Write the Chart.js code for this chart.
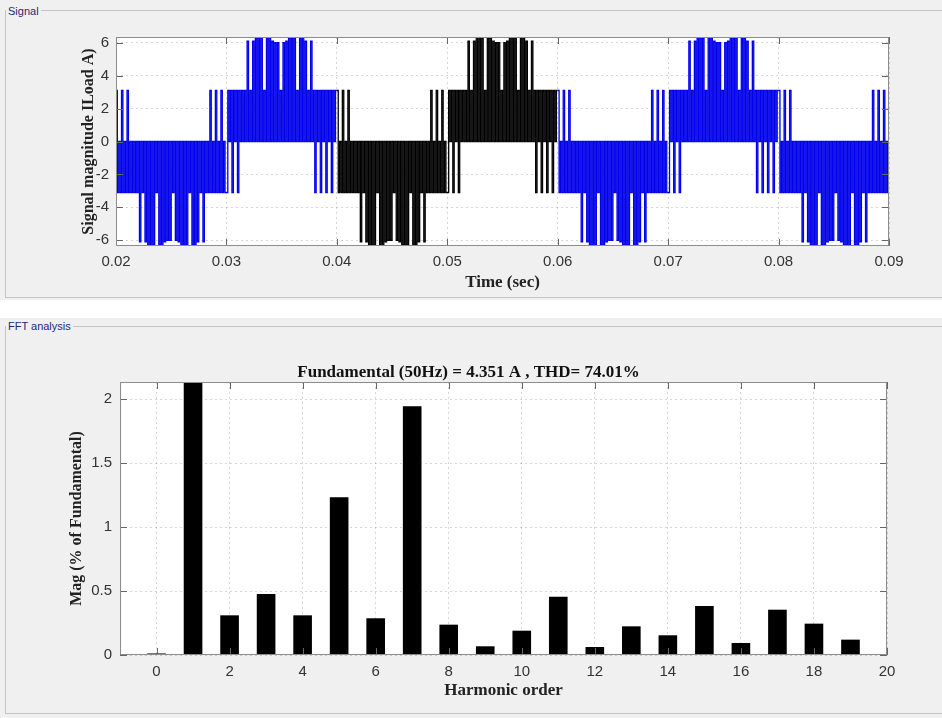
<!DOCTYPE html>
<html>
<head>
<meta charset="utf-8">
<script src="https://cdn.jsdelivr.net/npm/chart.js@4/dist/chart.umd.min.js"></script>
<style>
  html, body { margin: 0; padding: 0; background: #fff; width: 942px; height: 718px; overflow: hidden; position: relative; }
  .panel { position: absolute; left: 0; width: 942px; background: #f0f0f0; }
  .frame { position: absolute; border: 1px solid #c4c4c4; border-right: none; box-sizing: border-box; }
  .caption { position: absolute; font: 11px "Liberation Sans", Arial, sans-serif; line-height: 13px; color: #1e2a78; background: #f0f0f0; padding: 0 2px; }
  .holder { position: absolute; left: 0; width: 942px; }
</style>
</head>
<body>
<div class="panel" style="top:0;height:300px"></div>
<div class="frame" style="left:5px;top:10px;width:937px;height:288px"></div>
<div class="caption" style="left:6px;top:5px">Signal</div>

<div class="panel" style="top:318px;height:400px"></div>
<div class="frame" style="left:5px;top:326px;width:937px;height:388px"></div>
<div class="caption" style="left:6px;top:320px">FFT analysis</div>

<div class="holder" style="top:0;height:300px"><canvas id="sig"></canvas></div>
<div class="holder" style="top:318px;height:400px"><canvas id="fft"></canvas></div>

<script>
// ---- load current trace ----
const signalTicksX = [0.02, 0.03, 0.04, 0.05, 0.06, 0.07, 0.08, 0.09];
const signalTicksY = [-6, -4, -2, 0, 2, 4, 6];
const cycleStartsSec = [0.02, 0.04, 0.06, 0.08];
const analysedWindowSec = [0.04, 0.06];
const sampleStepMs = 0.125;

// switching zones inside one 20 ms cycle: start time (ms) and the level visited at each sample
const zoneStartMs = [0, 1.75, 8.25, 11.5, 18];
const zonePatterns = [
  "pn0npn0npn0n0n",
  "0n0v0n0v0u0u0u0n0u0u0v0w0w0n0w0v0u0u0u0n0u0u0v0n0v0n",
  "0npn0npn0npn0nnp0pnp0pnp0p",
  "0p0V0p0V0U0U0U0p0U0U0V0W0W0p0W0V0U0U0U0p0U0U0V0p0V0p",
  "np0pnp0pnp0pnp0p"
];
// current level (A) for each sample code
const levelCodes = ['0', 'p', 'n', 'U', 'V', 'W', 'u', 'v', 'w'];
const levelAmps  = [0, 3.1, -3.1, 6.3, 6.1, 6.0, -6.3, -6.1, -6.0];

// ---- harmonic spectrum ----
const harmonicOrder = [0, 1, 2, 3, 4, 5, 6, 7, 8, 9, 10, 11, 12, 13, 14, 15, 16, 17, 18, 19];
const magPercent = [0.012, 100, 0.31, 0.476, 0.31, 1.232, 0.287, 1.943, 0.237, 0.068,
                    0.19, 0.455, 0.0625, 0.224, 0.154, 0.383, 0.094, 0.354, 0.245, 0.12];
const fftTicksX = [0, 2, 4, 6, 8, 10, 12, 14, 16, 18, 20];
const fftTicksY = [0, 0.5, 1, 1.5, 2];
const fundamentalHz = 50;
const fundamentalAmp = '4.351';
const thdPercent = '74.01';

// decode the switching samples into (time, current) points
const signalPoints = [];
cycleStartsSec.forEach(start => {
  zonePatterns.forEach((pattern, z) => {
    for (let j = 0; j < pattern.length; j++) {
      const t = start + (zoneStartMs[z] + j * sampleStepMs) / 1000;
      if (t > signalTicksX[signalTicksX.length - 1] + 1e-9) return;
      signalPoints.push({ x: t, y: levelAmps[levelCodes.indexOf(pattern[j])] });
    }
  });
});

Chart.defaults.font.family = '"Liberation Sans", Arial, Helvetica, sans-serif';
Chart.defaults.color = '#333';

const serifBold = size => ({ family: '"Liberation Serif", "Times New Roman", serif', weight: 'bold', size, lineHeight: 1 });
const gridColor = 'rgba(0,0,0,0.16)';
const traceBlue = 'rgb(0,0,235)';
const traceBlack = '#000';
const plainNumber = v => String(v);

// white plot box, grey frame and inward tick marks on all four sides
const plotFrame = {
  id: 'plotFrame',
  beforeDraw(chart) {
    const { ctx, chartArea: a } = chart;
    ctx.save();
    ctx.fillStyle = '#fff';
    ctx.fillRect(a.left, a.top, a.right - a.left, a.bottom - a.top);
    ctx.restore();
  },
  afterDraw(chart) {
    const { ctx, chartArea: a, scales } = chart;
    const len = 7;
    ctx.save();
    ctx.lineWidth = 1;
    ctx.strokeStyle = '#666';
    ctx.beginPath();
    scales.x.ticks.forEach(t => {
      const px = Math.round(scales.x.getPixelForValue(t.value)) + 0.5;
      ctx.moveTo(px, a.bottom); ctx.lineTo(px, a.bottom - len);
      ctx.moveTo(px, a.top); ctx.lineTo(px, a.top + len);
    });
    scales.y.ticks.forEach(t => {
      const py = Math.round(scales.y.getPixelForValue(t.value)) + 0.5;
      ctx.moveTo(a.left, py); ctx.lineTo(a.left + len, py);
      ctx.moveTo(a.right, py); ctx.lineTo(a.right - len, py);
    });
    ctx.stroke();
    ctx.strokeStyle = '#8c8c8c';
    ctx.strokeRect(Math.round(a.left) + 0.5, Math.round(a.top) + 0.5,
                   Math.round(a.right - a.left) - 1, Math.round(a.bottom - a.top) - 1);
    ctx.restore();
  }
};

const inWindow = x => x >= analysedWindowSec[0] - 1e-9 && x < analysedWindowSec[1] - 1e-9;

new Chart(document.getElementById('sig'), {
  type: 'line',
  data: {
    datasets: [{
      data: signalPoints,
      borderColor: traceBlue,
      borderWidth: 1.3,
      pointRadius: 0,
      stepped: 'before',
      segment: { borderColor: c => inWindow(c.p0.parsed.x) ? traceBlack : traceBlue }
    }]
  },
  options: {
    responsive: true,
    maintainAspectRatio: false,
    animation: false,
    events: [],
    layout: { padding: { left: 50, right: 53, top: 37, bottom: 0 } },
    plugins: { legend: { display: false }, tooltip: { enabled: false } },
    scales: {
      x: {
        type: 'linear',
        min: signalTicksX[0],
        max: signalTicksX[signalTicksX.length - 1],
        afterFit: s => { s.height = 54; },
        afterBuildTicks: s => { s.ticks = signalTicksX.map(v => ({ value: v })); },
        grid: { color: gridColor, drawTicks: false },
        border: { display: false, dash: [2, 3] },
        ticks: { padding: 7, autoSkip: false, maxRotation: 0, font: { size: 15 }, callback: v => v.toFixed(2) },
        title: { display: true, text: 'Time (sec)', color: '#222', font: serifBold(17), padding: { top: 0, bottom: 8.5 } }
      },
      y: {
        min: -6.35,
        max: 6.35,
        afterFit: s => { s.width = 66; },
        afterBuildTicks: s => { s.ticks = signalTicksY.map(v => ({ value: v })); },
        grid: { color: gridColor, drawTicks: false },
        border: { display: false, dash: [2, 3] },
        ticks: { padding: 7, font: { size: 15 }, callback: plainNumber },
        title: { display: true, text: 'Signal magnitude ILoad A)', color: '#222', font: serifBold(16), padding: { top: 31, bottom: 0 } }
      }
    }
  },
  plugins: [plotFrame]
});

new Chart(document.getElementById('fft'), {
  type: 'bar',
  data: {
    datasets: [{
      data: harmonicOrder.map((h, i) => ({ x: h, y: magPercent[i] })),
      backgroundColor: '#000',
      borderWidth: 0,
      categoryPercentage: 1,
      barPercentage: 0.51
    }]
  },
  options: {
    responsive: true,
    maintainAspectRatio: false,
    animation: false,
    events: [],
    layout: { padding: { left: 50, right: 55, top: 0, bottom: 0 } },
    plugins: {
      legend: { display: false },
      tooltip: { enabled: false },
      title: {
        display: true,
        text: `Fundamental (${fundamentalHz}Hz) = ${fundamentalAmp} A , THD= ${thdPercent}%`,
        color: '#111',
        font: serifBold(17),
        padding: { top: 46.5, bottom: 0.5 }
      }
    },
    scales: {
      x: {
        type: 'linear',
        min: -1,
        max: 20,
        offset: false,
        afterFit: s => { s.height = 63; },
        afterBuildTicks: s => { s.ticks = fftTicksX.map(v => ({ value: v })); },
        grid: { color: gridColor, drawTicks: false, offset: false },
        border: { display: false, dash: [2, 3] },
        ticks: { padding: 8, autoSkip: false, maxRotation: 0, font: { size: 15 }, callback: plainNumber },
        title: { display: true, text: 'Harmonic order', color: '#222', font: serifBold(17), padding: { top: 0, bottom: 18.5 } }
      },
      y: {
        min: 0,
        max: 2.133,
        afterFit: s => { s.width = 70; },
        afterBuildTicks: s => { s.ticks = fftTicksY.map(v => ({ value: v })); },
        grid: { color: gridColor, drawTicks: false },
        border: { display: false, dash: [2, 3] },
        ticks: { padding: 8, font: { size: 15 }, callback: plainNumber },
        title: { display: true, text: 'Mag (% of Fundamental)', color: '#222', font: serifBold(16), padding: { top: 19, bottom: 0 } }
      }
    }
  },
  plugins: [plotFrame]
});
</script>
</body>
</html>
